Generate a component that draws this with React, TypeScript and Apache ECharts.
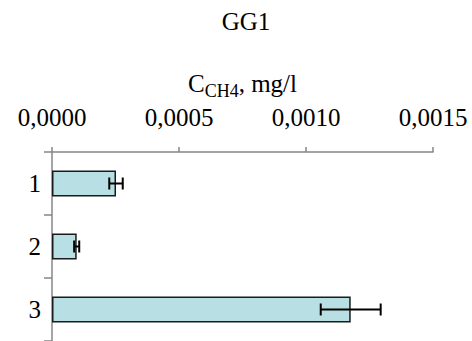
import React, { useEffect, useRef } from "react";
import * as echarts from "echarts";

const categories = ["1", "2", "3"];
const values = [0.000252, 0.0000972, 0.001176];
const errors = [0.0000265, 0.00001, 0.000118];
const xTicks = [0, 0.0005, 0.001, 0.0015];

const FONT = "'Liberation Serif', 'Times New Roman', serif";

export default function App() {
  const ref = useRef<HTMLDivElement>(null);
  useEffect(() => {
    if (!ref.current) return;
    const chart = echarts.init(ref.current, undefined, { renderer: "svg" });
    const errData = categories.map((c, i) => [values[i] - errors[i], values[i] + errors[i], i]);
    chart.setOption({
      animation: false,
      title: {
        text: "GG1",
        left: 241,
        textAlign: "center",
        top: 4,
        textStyle: { fontFamily: FONT, fontSize: 25, fontWeight: "normal", color: "#000" },
      },
      grid: { left: 52, right: 39, top: 152, bottom: 0, containLabel: false },
      xAxis: {
        type: "value",
        position: "top",
        min: xTicks[0],
        max: xTicks[xTicks.length - 1],
        interval: 0.0005,
        name: "{a|C}{b|CH4}{a|, mg/l}",
        nameLocation: "middle",
        nameGap: 50,
        nameTextStyle: {
          rich: {
            a: { fontFamily: FONT, fontSize: 25, color: "#000", lineHeight: 30, verticalAlign: "bottom" },
            b: { fontFamily: FONT, fontSize: 18, color: "#000", lineHeight: 30, verticalAlign: "bottom", padding: [0, 0, -4, 0] },
          },
        },
        axisLine: { show: true, lineStyle: { color: "#868686", width: 1.5 } },
        axisTick: { show: true, length: 5, lineStyle: { color: "#868686", width: 1.5 } },
        splitLine: { show: false },
        axisLabel: {
          margin: 22,
          fontFamily: FONT,
          fontSize: 25,
          color: "#000",
          formatter: (v: number) => v.toFixed(4).replace(".", ","),
        },
      },
      yAxis: {
        type: "category",
        data: categories,
        inverse: true,
        axisLine: { show: true, lineStyle: { color: "#868686", width: 1.5 } },
        axisTick: { show: true, length: 8, alignWithLabel: false, lineStyle: { color: "#868686", width: 1.5 } },
        axisLabel: { margin: 11, fontFamily: FONT, fontSize: 25, color: "#000" },
      },
      series: [
        {
          type: "bar",
          data: values,
          barWidth: 26,
          itemStyle: { color: "#b8dfe3", borderColor: "#1a1a1a", borderWidth: 1.5 },
        },
        {
          type: "custom",
          data: errData,
          z: 10,
          renderItem: (params: any, api: any) => {
            const lo = api.coord([api.value(0), api.value(2)]);
            const hi = api.coord([api.value(1), api.value(2)]);
            const y = lo[1];
            const h = 6;
            const style = { stroke: "#000", lineWidth: 2 };
            return {
              type: "group",
              children: [
                { type: "line", shape: { x1: lo[0], y1: y, x2: hi[0], y2: y }, style },
                { type: "line", shape: { x1: lo[0], y1: y - h, x2: lo[0], y2: y + h }, style },
                { type: "line", shape: { x1: hi[0], y1: y - h, x2: hi[0], y2: y + h }, style },
              ],
            };
          },
        },
      ],
    });
    return () => chart.dispose();
  }, []);
  return <div ref={ref} style={{ position: "absolute", left: 0, top: 0, width: 472, height: 341 }} />;
}
